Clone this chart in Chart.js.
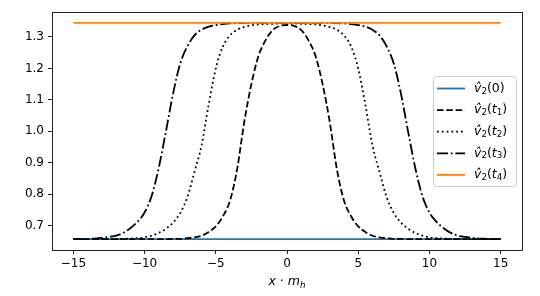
<!DOCTYPE html>
<html>
<head>
<meta charset="utf-8">
<script src="https://cdn.jsdelivr.net/npm/chart.js@4/dist/chart.umd.min.js"></script>
<style>
  html, body { margin: 0; padding: 0; background: #fff; }
  #wrap { width: 540px; height: 296px; }
</style>
</head>
<body>
<div id="wrap"><canvas id="grafico" width="540" height="296"></canvas></div>
<script>
// valores (x de -15 a 15, passo 0.5)
const xs = [-15,-14.5,-14,-13.5,-13,-12.5,-12,-11.5,-11,-10.5,
            -10,-9.5,-9,-8.5,-8,-7.5,-7,-6.5,-6,-5.5,
            -5,-4.5,-4,-3.5,-3,-2.5,-2,-1.5,-1,-0.5,
            0,
            0.5,1,1.5,2,2.5,3,3.5,4,4.5,5,
            5.5,6,6.5,7,7.5,8,8.5,9,9.5,10,
            10.5,11,11.5,12,12.5,13,13.5,14,14.5,15]

const xsRetas = [-15, 15]
const v2_0 = [0.657, 0.657]
const v2_t4 = [1.345, 1.345]

const v2_t1 = [0.657,0.657,0.657,0.657,0.657,0.657,0.657,0.657,0.657,0.657,
               0.657,0.657,0.657,0.657,0.658,0.658,0.660,0.663,0.668,0.680,
               0.698,0.730,0.780,0.880,1.030,1.150,1.240,1.290,1.322,1.335,
               1.338,
               1.335,1.322,1.290,1.240,1.150,1.030,0.880,0.780,0.730,0.698,
               0.680,0.668,0.663,0.660,0.658,0.658,0.657,0.657,0.657,0.657,
               0.657,0.657,0.657,0.657,0.657,0.657,0.657,0.657,0.657,0.657]

const v2_t2 = [0.657,0.657,0.657,0.657,0.657,0.657,0.658,0.658,0.659,0.660,
               0.663,0.668,0.677,0.690,0.710,0.740,0.790,0.870,0.955,1.085,
               1.200,1.270,1.305,1.323,1.332,1.337,1.340,1.341,1.342,1.343,
               1.343,
               1.343,1.342,1.341,1.340,1.337,1.332,1.323,1.305,1.270,1.200,
               1.085,0.955,0.870,0.790,0.740,0.710,0.690,0.677,0.668,0.663,
               0.660,0.659,0.658,0.658,0.657,0.657,0.657,0.657,0.657,0.657]

const v2_t3 = [0.657,0.657,0.658,0.659,0.661,0.664,0.668,0.677,0.692,0.712,
               0.742,0.795,0.885,1.000,1.120,1.215,1.270,1.305,1.323,1.333,
               1.338,1.341,1.343,1.344,1.345,1.345,1.345,1.345,1.345,1.345,
               1.345,
               1.345,1.345,1.345,1.345,1.345,1.345,1.344,1.343,1.341,1.338,
               1.333,1.323,1.305,1.270,1.215,1.120,1.000,0.885,0.795,0.742,
               0.712,0.692,0.677,0.668,0.664,0.661,0.659,0.658,0.657,0.657]

const rotulos = ['v\u0302\u2082(0)', 'v\u0302\u2082(t\u2081)', 'v\u0302\u2082(t\u2082)', 'v\u0302\u2082(t\u2083)', 'v\u0302\u2082(t\u2084)']
const yTicks = [0.7, 0.8, 0.9, 1.0, 1.1, 1.2, 1.3]
const xTicks = [-15, -10, -5, 0, 5, 10, 15]

const fonte = 'DejaVu Sans'
const lw = 1.8

function pontos(x, y) {
    return x.map((v, i) => ({ x: v, y: y[i] }))
}

// texto com partes em italico / subscrito
function desenhaPartes(ctx, partes, x, y, tam, align) {
    const medidas = partes.map(p => {
        const t = p.sub ? tam * 0.7 : tam
        ctx.font = (p.it ? 'italic ' : '') + t + 'px "' + fonte + '"'
        return ctx.measureText(p.t).width
    })
    const total = medidas.reduce((a, b) => a + b, 0)
    let cx = align === 'center' ? x - total / 2 : x
    partes.forEach((p, i) => {
        const t = p.sub ? tam * 0.7 : tam
        ctx.font = (p.it ? 'italic ' : '') + t + 'px "' + fonte + '"'
        ctx.fillText(p.t, cx, p.sub ? y + tam * 0.22 : y)
        cx += medidas[i]
    })
}

function partesRotulo(i) {
    const base = [{ t: 'v\u0302', it: true }, { t: '2', sub: true }, { t: '(' }]
    if (i === 0) return base.concat([{ t: '0' }, { t: ')' }])
    return base.concat([{ t: 't', it: true }, { t: String(i), sub: true }, { t: ')' }])
}

const moldura = {
    id: 'moldura',
    afterDraw(chart) {
        const { ctx, chartArea: a } = chart
        ctx.save()
        ctx.strokeStyle = '#222'
        ctx.lineWidth = 1
        ctx.strokeRect(a.left + 0.5, a.top + 0.5, a.right - a.left, a.bottom - a.top)

        // titulo do eixo x
        ctx.fillStyle = '#000'
        ctx.textBaseline = 'alphabetic'
        ctx.textAlign = 'left'
        desenhaPartes(ctx, [{ t: 'x', it: true }, { t: ' \u00b7 ' }, { t: 'm', it: true }, { t: 'h', it: true, sub: true }],
            (a.left + a.right) / 2, 285, 12.5, 'center')

        // legenda
        const lx = 433, ly = 76, lw2 = 83, lh = 110
        ctx.fillStyle = 'rgba(255,255,255,0.85)'
        ctx.strokeStyle = '#cccccc'
        ctx.lineWidth = 1
        ctx.beginPath()
        ctx.roundRect(lx + 0.5, ly + 0.5, lw2, lh, 3)
        ctx.fill()
        ctx.stroke()

        const ds = chart.data.datasets
        ds.forEach((d, i) => {
            const yy = 88.5 + i * 21.6
            ctx.strokeStyle = d.borderColor
            ctx.lineWidth = lw
            ctx.lineCap = 'butt'
            ctx.setLineDash(d.borderDash || [])
            ctx.beginPath()
            ctx.moveTo(437, yy)
            ctx.lineTo(465, yy)
            ctx.stroke()
            ctx.setLineDash([])
            ctx.fillStyle = '#000'
            ctx.textBaseline = 'middle'
            desenhaPartes(ctx, partesRotulo(i), 474, yy, 12.5, 'left')
        })
        ctx.restore()
    }
}

const estilos = [
    { cor: '#1f77b4', dash: [] },
    { cor: '#000000', dash: [6.5, 2.8] },
    { cor: '#000000', dash: [1.8, 3.0] },
    { cor: '#000000', dash: [11, 2.8, 1.8, 2.8] },
    { cor: '#ff7f0e', dash: [] }
]
const series = [pontos(xsRetas, v2_0), pontos(xs, v2_t1), pontos(xs, v2_t2), pontos(xs, v2_t3), pontos(xsRetas, v2_t4)]

const data = {
    datasets: series.map((s, i) => ({
        label: rotulos[i],
        data: s,
        borderColor: estilos[i].cor,
        borderDash: estilos[i].dash,
        borderWidth: lw,
        pointRadius: 0,
        fill: false,
        cubicInterpolationMode: 'monotone',
        order: 5 - i
    }))
}

new Chart(document.getElementById('grafico'), {
    type: 'line',
    data: data,
    options: {
        responsive: false,
        animation: false,
        layout: { padding: { top: 12, right: 18, left: 0, bottom: 0 } },
        plugins: {
            legend: { display: false },
            tooltip: { enabled: false }
        },
        scales: {
            x: {
                type: 'linear',
                min: -16.5,
                max: 16.5,
                afterFit: s => { s.height = 46 },
                afterBuildTicks: s => { s.ticks = xTicks.map(v => ({ value: v })) },
                ticks: {
                    color: '#000',
                    padding: 3,
                    font: { family: fonte, size: 12 },
                    callback: v => String(v).replace('-', '\u2212')
                },
                grid: { display: true, drawOnChartArea: false, drawTicks: true, tickLength: 4, tickWidth: 1, color: '#222' },
                border: { display: false }
            },
            y: {
                type: 'linear',
                min: 0.6226,
                max: 1.3794,
                afterFit: s => { s.width = 52 },
                afterBuildTicks: s => { s.ticks = yTicks.map(v => ({ value: v })) },
                ticks: {
                    color: '#000',
                    padding: 4,
                    font: { family: fonte, size: 12 },
                    callback: v => v.toFixed(1)
                },
                grid: { display: true, drawOnChartArea: false, drawTicks: true, tickLength: 4, tickWidth: 1, color: '#222' },
                border: { display: false }
            }
        }
    },
    plugins: [moldura]
})
</script>
</body>
</html>
